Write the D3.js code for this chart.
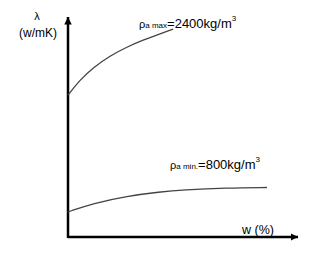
<!DOCTYPE html>
<html>
<head>
<meta charset="utf-8">
<script src="https://cdn.jsdelivr.net/npm/d3@7"></script>
<style>
  body { margin: 0; background: #fff; }
  text { font-family: "Liberation Sans", Arial, sans-serif; fill: #000; }
</style>
</head>
<body>
<svg id="chart" width="320" height="273"></svg>
<script>
// moisture content w (%) vs thermal conductivity, both on a 0..100 relative scale
const wMax = [0, 5.2, 10.9, 18.3, 25.7, 32.6, 40, 45.7];
const lambdaMax = [64.5, 71.4, 77.0, 82.4, 86.4, 89.5, 92.3, 94.5];
const wMin = [0, 10.9, 25.7, 40, 50, 69.1, 86.5];
const lambdaMin = [11.4, 15.3, 18.6, 20.5, 21.4, 22.3, 22.5];

const svg = d3.select("#chart");

// scales
const x = d3.scaleLinear().domain([0, 100]).range([68, 298]);
const y = d3.scaleLinear().domain([0, 100]).range([237, 17]);

// arrow marker for the axes
svg.append("defs").append("marker")
    .attr("id", "arrow")
    .attr("viewBox", "0 0 10 10")
    .attr("refX", 10).attr("refY", 5)
    .attr("markerWidth", 3).attr("markerHeight", 3)
    .attr("markerUnits", "strokeWidth")
    .attr("orient", "auto")
    .append("path")
    .attr("d", "M0,0 L10,5 L0,10 Z")
    .attr("fill", "#000");

// axes drawn as plain arrowed lines (no ticks in the original)
svg.append("line")
    .attr("x1", x(0)).attr("y1", y(0))
    .attr("x2", x(100)).attr("y2", y(0))
    .attr("stroke", "#000").attr("stroke-width", 2.5)
    .attr("marker-end", "url(#arrow)");

svg.append("line")
    .attr("x1", x(0)).attr("y1", y(0) + 1)
    .attr("x2", x(0)).attr("y2", y(100))
    .attr("stroke", "#000").attr("stroke-width", 2.5)
    .attr("marker-end", "url(#arrow)");

// curves
const line = d3.line()
    .x(d => x(d[0]))
    .y(d => y(d[1]))
    .curve(d3.curveBasis);

svg.append("path")
    .attr("d", line(d3.zip(wMax, lambdaMax)))
    .attr("fill", "none")
    .attr("stroke", "#444")
    .attr("stroke-width", 1.3);

svg.append("path")
    .attr("d", line(d3.zip(wMin, lambdaMin)))
    .attr("fill", "none")
    .attr("stroke", "#444")
    .attr("stroke-width", 1.3);

// axis labels
svg.append("text").attr("x", 37).attr("y", 20)
    .attr("text-anchor", "middle").attr("font-size", 11).text("λ");
svg.append("text").attr("x", 38).attr("y", 37)
    .attr("text-anchor", "middle").attr("font-size", 12).text("(w/mK)");
svg.append("text").attr("x", 242).attr("y", 234)
    .attr("font-size", 12.5).text("w (%)");

// curve labels with subscript and superscript
function curveLabel(px, py, sub, value) {
    const t = svg.append("text").attr("x", px).attr("y", py);
    t.append("tspan").attr("font-size", 11).text("ρ");
    t.append("tspan").attr("font-size", 8).text(sub);
    t.append("tspan").attr("font-size", 13).text(value);
    t.append("tspan").attr("font-size", 8).attr("dy", -7).text("3");
}
curveLabel(139, 28, "a max", "=2400kg/m");
curveLabel(170, 169, "a min.", "=800kg/m");
</script>
</body>
</html>
